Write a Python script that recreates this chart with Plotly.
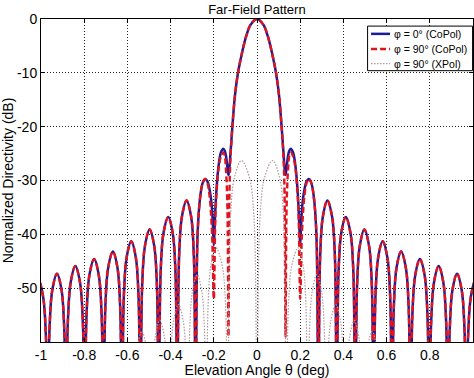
import plotly.graph_objects as go

# ---------------- data ----------------
# outer side lobes, common to both CoPol cuts (theta in deg, level in dB)
theta_outer_left = [-1.03, -1.012, -0.9905, -0.9775, -0.969, -0.9605, -0.9475, -0.926, -0.905, -0.8925,
                    -0.884, -0.8755, -0.8625, -0.841, -0.8195, -0.8065, -0.798, -0.789, -0.776, -0.754,
                    -0.7325, -0.7195, -0.711, -0.702, -0.689, -0.667, -0.646, -0.6335, -0.625, -0.6165,
                    -0.6035, -0.582, -0.561, -0.5485, -0.540, -0.5315, -0.5185, -0.497, -0.476, -0.4635,
                    -0.455, -0.446, -0.433, -0.411, -0.390, -0.3775, -0.369, -0.3605, -0.3475, -0.326,
                    -0.305, -0.2925, -0.284]
copol_outer_left = [-49.5, -48.5, -51.5, -58.7, -75, -57.5, -50.3, -47.3, -50.3, -57.5,
                    -75, -56.1, -48.9, -45.9, -48.9, -56.1, -75, -54.8, -47.6, -44.6,
                    -47.6, -54.8, -75, -53.4, -46.2, -43.2, -46.2, -53.4, -75, -51.5,
                    -44.3, -41.3, -44.3, -51.5, -75, -49.3, -42.1, -39.1, -42.1, -49.3,
                    -75, -47, -39.8, -36.8, -39.8, -47, -75, -43.9, -36.7, -33.7,
                    -36.7, -43.9, -75]
theta_outer_right = [0.284, 0.2925, 0.305, 0.326, 0.3475, 0.3605, 0.369, 0.3775, 0.390, 0.411,
                     0.433, 0.446, 0.455, 0.4635, 0.476, 0.497, 0.5185, 0.5315, 0.540, 0.5485,
                     0.561, 0.582, 0.6035, 0.6165, 0.625, 0.6335, 0.646, 0.667, 0.689, 0.702,
                     0.711, 0.7195, 0.7325, 0.754, 0.776, 0.789, 0.798, 0.8065, 0.8195, 0.841,
                     0.8625, 0.8755, 0.884, 0.8925, 0.905, 0.926, 0.9475, 0.9605, 0.969, 0.9775,
                     0.9905, 1.012, 1.03]
copol_outer_right = [-75, -43.9, -36.7, -33.7, -36.7, -43.9, -75, -47, -39.8, -36.8,
                     -39.8, -47, -75, -49.3, -42.1, -39.1, -42.1, -49.3, -75, -51.5,
                     -44.3, -41.3, -44.3, -51.5, -75, -53.4, -46.2, -43.2, -46.2, -53.4,
                     -75, -54.8, -47.6, -44.6, -47.6, -54.8, -75, -56.1, -48.9, -45.9,
                     -48.9, -56.1, -75, -57.5, -50.3, -47.3, -50.3, -57.5, -75, -58.7,
                     -51.5, -48.5, -49.5]

# main lobe and first side lobes, phi = 0 deg cut
theta_center_phi0 = [-0.275, -0.262, -0.251, -0.240, -0.230, -0.220, -0.210, -0.204, -0.200, -0.196,
                     -0.189, -0.178, -0.167, -0.156, -0.149, -0.143, -0.137, -0.132, -0.128, -0.122,
                     -0.114, -0.102, -0.088, -0.07, -0.05, -0.03, 0.0,
                     0.03, 0.05, 0.07, 0.088, 0.102, 0.114, 0.122, 0.128, 0.132, 0.137,
                     0.143, 0.149, 0.156, 0.167, 0.178, 0.189, 0.196, 0.200, 0.204, 0.210,
                     0.220, 0.230, 0.240, 0.251, 0.262, 0.275]
db_center_phi0 = [-39.9, -32.7, -30.4, -29.7, -30.1, -31.6, -34.5, -38.5, -42, -38.5,
                  -32.5, -27.3, -24.8, -24.1, -24.5, -25.6, -27.6, -29, -27.8, -24.5,
                  -20, -14.2, -10, -6.4, -3.2, -1.1, 0.0,
                  -1.1, -3.2, -6.4, -10, -14.2, -20, -24.5, -27.8, -29, -27.6,
                  -25.6, -24.5, -24.1, -24.8, -27.3, -32.5, -38.5, -42, -38.5, -34.5,
                  -31.6, -30.1, -29.7, -30.4, -32.7, -39.9]

# main lobe and first side lobes, phi = 90 deg cut
theta_center_phi90 = [-0.275, -0.262, -0.251, -0.240, -0.230, -0.220, -0.208, -0.200, -0.191, -0.178,
                      -0.167, -0.156, -0.150, -0.144, -0.137, -0.132, -0.127, -0.121,
                      -0.114, -0.102, -0.088, -0.07, -0.05, -0.03, 0.0,
                      0.03, 0.05, 0.07, 0.088, 0.102, 0.114, 0.121, 0.127, 0.132, 0.137,
                      0.144, 0.150, 0.156, 0.167, 0.178, 0.191, 0.200, 0.208, 0.220, 0.230,
                      0.240, 0.251, 0.262, 0.275]
db_center_phi90 = [-39.9, -32.7, -30.4, -29.7, -30.4, -32.7, -39.9, -52, -35, -27.8,
                   -25.5, -24.8, -25.3, -27.8, -35, -59, -31, -24.5,
                   -20, -14.2, -10, -6.4, -3.2, -1.1, 0.0,
                   -1.1, -3.2, -6.4, -10, -14.2, -20, -24.5, -31, -59, -35,
                   -27.8, -25.3, -24.8, -25.5, -27.8, -35, -52, -39.9, -32.7, -30.4,
                   -29.7, -30.4, -32.7, -39.9]

# cross-polar component, phi = 90 deg cut
theta_xpol = [-0.575, -0.5666, -0.554, -0.533, -0.5125, -0.5002, -0.492, -0.4836, -0.471, -0.45,
              -0.429, -0.4164, -0.408, -0.3992, -0.386, -0.364, -0.342, -0.3288, -0.32, -0.3114,
              -0.2985, -0.277, -0.256, -0.2434, -0.235, -0.226, -0.2125, -0.19, -0.1625, -0.146,
              -0.135, -0.1224, -0.1035, -0.072, -0.036, -0.0144, 0.0,
              0.0144, 0.036, 0.072, 0.1035, 0.1224, 0.135, 0.146, 0.1625, 0.19, 0.2125,
              0.226, 0.235, 0.2434, 0.256, 0.277, 0.2985, 0.3114, 0.32, 0.3288, 0.342,
              0.364, 0.386, 0.3992, 0.408, 0.4164, 0.429, 0.45, 0.471, 0.4836, 0.492,
              0.5002, 0.5125, 0.533, 0.554, 0.5666, 0.575]
db_xpol = [-80, -68, -61, -58, -61, -68, -80, -66, -59, -56,
           -59, -66, -80, -63.2, -56, -53, -56, -63.2, -80, -57.7,
           -50.5, -47.5, -50.5, -57.7, -80, -52.7, -45.5, -42.5, -45.5, -52.7,
           -80, -36.5, -29.3, -26.3, -29.3, -36.5, -80,
           -36.5, -29.3, -26.3, -29.3, -36.5, -80, -52.7, -45.5, -42.5, -45.5,
           -52.7, -80, -57.7, -50.5, -47.5, -50.5, -57.7, -80, -63.2, -56,
           -53, -56, -63.2, -80, -66, -59, -56, -59, -66, -80,
           -68, -61, -58, -61, -68, -80]

series_names = ["φ = 0° (CoPol)", "φ = 90° (CoPol)", "φ = 90° (XPol)"]
x_tick_vals = [-1, -0.8, -0.6, -0.4, -0.2, 0, 0.2, 0.4, 0.6, 0.8, 1]
x_tick_text = ["-1", "-0.8", "-0.6", "-0.4", "-0.2", "0", "0.2", "0.4", "0.6", "0.8", "1"]
y_tick_vals = [-50, -40, -30, -20, -10, 0]
y_tick_text = ["-50", "-40", "-30", "-20", "-10", "0"]

# ---------------- figure ----------------
theta_phi0 = theta_outer_left + theta_center_phi0 + theta_outer_right
db_phi0 = copol_outer_left + db_center_phi0 + copol_outer_right
theta_phi90 = theta_outer_left + theta_center_phi90 + theta_outer_right
db_phi90 = copol_outer_left + db_center_phi90 + copol_outer_right

FONT = "Liberation Sans, Arial, Helvetica, sans-serif"
styles = [
    dict(color="#1c1c96", width=2.5),
    dict(color="#e0141e", width=2.4, dash="6px,3px"),
    dict(color="#ad979f", width=1.2, dash="1.5px,1.5px"),
]

fig = go.Figure()
for xs, ys, nm, st in [(theta_phi0, db_phi0, series_names[0], styles[0]),
                       (theta_phi90, db_phi90, series_names[1], styles[1]),
                       (theta_xpol, db_xpol, series_names[2], styles[2])]:
    fig.add_trace(go.Scatter(x=xs, y=ys, mode="lines", name=nm, showlegend=False,
                             line=dict(shape="spline", smoothing=1, **st)))

axis_common = dict(showline=True, linecolor="black", linewidth=1, mirror="allticks",
                   ticks="inside", ticklen=4, tickcolor="black", automargin=False,
                   showgrid=True, gridcolor="#222222", gridwidth=1, griddash="1px,2px",
                   zeroline=False, tickfont=dict(family=FONT, size=14, color="black"))

fig.update_xaxes(range=[-1, 1], tickvals=x_tick_vals, ticktext=x_tick_text,
                 title=dict(text="Elevation Angle θ (deg)", font=dict(family=FONT, size=14, color="black"),
                            standoff=2),
                 **axis_common)
fig.update_yaxes(range=[-60, 0], tickvals=y_tick_vals, ticktext=y_tick_text,
                 title=dict(text="Normalized Directivity (dB)", font=dict(family=FONT, size=14, color="black"),
                            standoff=2),
                 **axis_common)

# compact boxed legend in the upper right corner (MATLAB style)
legend_rows_y = [0.954, 0.907, 0.862]
shapes = [dict(type="rect", xref="paper", yref="paper", x0=0.756, x1=0.999, y0=0.840, y1=0.978,
               fillcolor="white", line=dict(color="black", width=1), layer="above")]
annotations = []
for yy, nm, st in zip(legend_rows_y, series_names, styles):
    shapes.append(dict(type="line", xref="paper", yref="paper", x0=0.764, x1=0.808, y0=yy, y1=yy,
                       line=dict(color=st["color"], width=st["width"], dash=st.get("dash", "solid")),
                       layer="above"))
    annotations.append(dict(xref="paper", yref="paper", x=0.812, y=yy, xanchor="left", yanchor="middle",
                            text=nm, showarrow=False,
                            font=dict(family=FONT, size=10.5, color="black")))

fig.update_layout(
    width=474, height=378,
    margin=dict(l=41, r=1, t=19, b=36, autoexpand=False),
    paper_bgcolor="white", plot_bgcolor="white",
    title=dict(text="Far-Field Pattern", font=dict(family=FONT, size=13, color="black"),
               x=0.542, xanchor="center", y=0.975, yanchor="middle", xref="container", yref="container"),
    shapes=shapes, annotations=annotations,
    showlegend=False,
)

fig.write_html("out.html", config={"displayModeBar": False},
               post_script="document.body.style.margin='0';document.body.style.overflow='hidden';")
